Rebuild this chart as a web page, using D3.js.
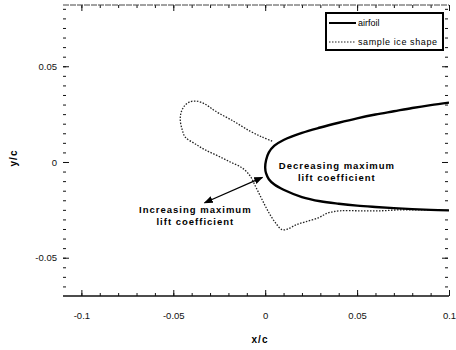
<!DOCTYPE html>
<html><head><meta charset="utf-8">
<script src="https://cdn.jsdelivr.net/npm/d3@7"></script>
<style>
html,body{margin:0;padding:0;background:#fff;}
text{font-family:"Liberation Sans",Arial,sans-serif;}
</style></head>
<body>
<svg id="c" width="456" height="350"></svg>
<script>
// ---- data ----
const xTickValues = [-0.1, -0.05, 0, 0.05, 0.1];
const xTickLabels = ["-0.1", "-0.05", "0", "0.05", "0.1"];
const yTickValues = [-0.05, 0, 0.05];
const yTickLabels = ["-0.05", "0", "0.05"];

const airfoilUpperX = [0.1, 0.09, 0.08, 0.07, 0.06, 0.05, 0.04, 0.03, 0.02, 0.01, 0.005, 0.002, 0.0005, 0];
const airfoilUpperY = [0.031, 0.0297, 0.0282, 0.0265, 0.0248, 0.0228, 0.0205, 0.018, 0.0152, 0.0115, 0.0085, 0.005, 0.001, -0.003];
const airfoilLowerX = [0.0005, 0.002, 0.005, 0.01, 0.02, 0.03, 0.04, 0.05, 0.06, 0.07, 0.08, 0.09, 0.1];
const airfoilLowerY = [-0.006, -0.009, -0.0118, -0.0145, -0.0183, -0.0205, -0.0218, -0.0228, -0.0235, -0.0241, -0.0246, -0.025, -0.0253];

const iceX = [0.0038, -0.0016, -0.0082, -0.0174, -0.0272, -0.031, -0.0337, -0.0375, -0.0413, -0.044, -0.0457, -0.0462, -0.0451, -0.0435, -0.038, -0.0326, -0.0255, -0.019, -0.0125, -0.0082, -0.0054, -0.0027, 0.0, 0.0027, 0.006, 0.0092, 0.0125, 0.0168, 0.0217, 0.0288, 0.0342, 0.0408, 0.0516, 0.0625, 0.0734, 0.0842, 0.0951];
const iceY = [0.0109, 0.013, 0.0161, 0.0214, 0.0266, 0.0292, 0.0307, 0.0318, 0.0313, 0.0292, 0.026, 0.0219, 0.0167, 0.013, 0.0094, 0.0063, 0.0031, 0.0, -0.0031, -0.0073, -0.0125, -0.0177, -0.0229, -0.0276, -0.0323, -0.0354, -0.0349, -0.0328, -0.0313, -0.0292, -0.0266, -0.0255, -0.0255, -0.0255, -0.025, -0.025, -0.025];

const seriesNames = ["airfoil", "sample ice shape"];
const annotDecrease = ["Decreasing maximum", "lift coefficient"];
const annotIncrease = ["Increasing maximum", "lift coefficient"];
const arrowX = [-0.033, -0.0015];
const arrowY = [-0.0213, -0.0080];
const decreaseAt = [0.039, -0.0015];
const increaseAt = [-0.038, -0.0245];

// ---- layout ----
const L = 63, R = 449, T = 5, B = 296;
const x = d3.scaleLinear().domain([-0.11, 0.1]).range([L, R]);
const y = d3.scaleLinear().domain([-0.07, 0.082]).range([B, T]);

const svg = d3.select("#c");
svg.append("defs").append("clipPath").attr("id", "clip")
  .append("rect").attr("x", L).attr("y", T).attr("width", R - L).attr("height", B - T);
const defs = svg.select("defs");
defs.append("marker").attr("id", "arr")
  .attr("viewBox", "0 0 10 10").attr("refX", 9).attr("refY", 5)
  .attr("markerWidth", 7).attr("markerHeight", 7).attr("orient", "auto-start-reverse")
  .append("path").attr("d", "M0,1 L10,5 L0,9 Z").attr("fill", "#000");

// minor ticks
const xMinor = d3.range(-11, 11).map(i => i * 0.01).filter(v => v > -0.1099 && v < 0.0999);
const yMinor = d3.range(-14, 17).map(i => i * 0.005).filter(v => v > -0.0699 && v < 0.0819);

function axisGroup(axis) {
  const g = svg.append("g");
  g.call(axis);
  g.select(".domain").remove();
  g.selectAll(".tick line").attr("stroke", "#111").attr("stroke-width", 1);
  return g;
}
// bottom
axisGroup(d3.axisBottom(x).tickValues(xMinor).tickSize(-3).tickFormat("")).attr("transform", `translate(0,${B})`);
const gxb = axisGroup(d3.axisBottom(x).tickValues(xTickValues).tickSize(-6).tickPadding(16)
  .tickFormat((d, i) => xTickLabels[i])).attr("transform", `translate(0,${B})`);
gxb.selectAll("text").attr("font-size", 9.5).attr("fill", "#111");
// top
axisGroup(d3.axisTop(x).tickValues(xMinor).tickSize(-3).tickFormat("")).attr("transform", `translate(0,${T})`);
axisGroup(d3.axisTop(x).tickValues(xTickValues).tickSize(-6).tickFormat("")).attr("transform", `translate(0,${T})`);
// left
axisGroup(d3.axisLeft(y).tickValues(yMinor).tickSize(-3).tickFormat("")).attr("transform", `translate(${L},0)`);
const gyl = axisGroup(d3.axisLeft(y).tickValues(yTickValues).tickSize(-6).tickPadding(6)
  .tickFormat((d, i) => yTickLabels[i])).attr("transform", `translate(${L},0)`);
gyl.selectAll("text").attr("font-size", 9.5).attr("fill", "#111");
// right
axisGroup(d3.axisRight(y).tickValues(yMinor).tickSize(-3).tickFormat("")).attr("transform", `translate(${R - 1},0)`);
axisGroup(d3.axisRight(y).tickValues(yTickValues).tickSize(-6).tickFormat("")).attr("transform", `translate(${R - 1},0)`);

// frame (top and bottom only, as in the scan)
svg.append("line").attr("x1", L).attr("x2", R).attr("y1", T).attr("y2", T)
  .attr("stroke", "#444").attr("stroke-width", 1).attr("stroke-dasharray", "6,1");
svg.append("line").attr("x1", L).attr("x2", R).attr("y1", B).attr("y2", B).attr("stroke", "#111").attr("stroke-width", 1.5);

// axis titles
svg.append("text").attr("x", 260).attr("y", 343).attr("text-anchor", "middle")
  .attr("font-size", 10).attr("font-weight", "bold").attr("letter-spacing", 1).text("x/c");
svg.append("text").attr("transform", "translate(17,158) rotate(-90)").attr("text-anchor", "middle")
  .attr("font-size", 10).attr("font-weight", "bold").attr("letter-spacing", 1).text("y/c");

// curves
const plot = svg.append("g").attr("clip-path", "url(#clip)");
const airfoilPts = airfoilUpperX.map((v, i) => [v, airfoilUpperY[i]])
  .concat(airfoilLowerX.map((v, i) => [v, airfoilLowerY[i]]));
const icePts = iceX.map((v, i) => [v, iceY[i]]);
const line = d3.line().x(d => x(d[0])).y(d => y(d[1])).curve(d3.curveCatmullRom.alpha(0.5));

plot.append("path").attr("d", line(icePts)).attr("fill", "none")
  .attr("stroke", "#222").attr("stroke-width", 1.3).attr("stroke-dasharray", "1.5,1.5");
plot.append("path").attr("d", line(airfoilPts)).attr("fill", "none")
  .attr("stroke", "#000").attr("stroke-width", 2.4);

// arrow
svg.append("line").attr("x1", x(arrowX[0])).attr("y1", y(arrowY[0]))
  .attr("x2", x(arrowX[1])).attr("y2", y(arrowY[1]))
  .attr("stroke", "#000").attr("stroke-width", 1.3)
  .attr("marker-start", "url(#arr)").attr("marker-end", "url(#arr)");

// annotations
function annot(lines, pos) {
  const t = svg.append("text").attr("text-anchor", "middle").attr("font-size", 9.5)
    .attr("font-weight", "bold").attr("letter-spacing", 1).attr("fill", "#000");
  lines.forEach((s, i) => t.append("tspan").attr("x", x(pos[0])).attr("y", y(pos[1]) + 4 + i * 12).text(s));
}
annot(annotDecrease, decreaseAt);
annot(annotIncrease, increaseAt);

// legend
const lg = svg.append("g");
lg.append("rect").attr("x", 326).attr("y", 13).attr("width", 117).attr("height", 37)
  .attr("fill", "#fff").attr("stroke", "#000").attr("stroke-width", 2);
lg.append("line").attr("x1", 329).attr("x2", 356).attr("y1", 23).attr("y2", 23)
  .attr("stroke", "#000").attr("stroke-width", 2);
lg.append("line").attr("x1", 329).attr("x2", 356).attr("y1", 42).attr("y2", 42)
  .attr("stroke", "#222").attr("stroke-width", 1.2).attr("stroke-dasharray", "1.5,1.5");
lg.append("text").attr("x", 358).attr("y", 26).attr("font-size", 9).text(seriesNames[0]);
lg.append("text").attr("x", 358).attr("y", 45).attr("font-size", 9).attr("letter-spacing", 0.6).text(seriesNames[1]);
</script>
</body></html>
